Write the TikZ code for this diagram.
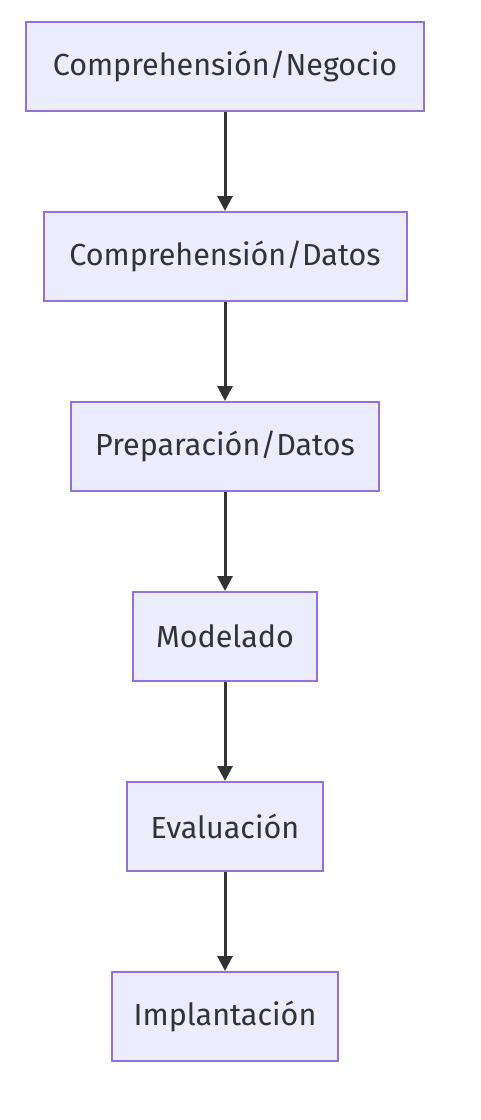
\documentclass[tikz,border=0pt]{standalone}
\usepackage{fontspec}
\setmainfont{Fira Sans}
\usetikzlibrary{arrows.meta, positioning}
\definecolor{boxfill}{HTML}{ECECFF}
\definecolor{boxline}{HTML}{9370DB}
\definecolor{arrline}{HTML}{333333}
\tikzset{
  stage/.style={
    rectangle, minimum height=89pt, inner xsep=0pt,
    draw=boxline, fill=boxfill, line width=2pt,
    text=arrline, font=\fontsize{30.5}{36}\selectfont
  },
  arr/.style={-{Triangle[length=15pt, width=15pt]}, line width=3pt, draw=arrline}
}
\begin{document}
\begin{tikzpicture}[x=1pt, y=1pt, node distance=99pt]
  \useasboundingbox (0,0) rectangle (480,-1120);
  \node[stage, minimum width=398pt] at (225,-66.5) (neg) {Comprehensión/Negocio};
  \node[stage, minimum width=363pt, below=of neg] (dat) {Comprehensión/Datos};
  \node[stage, minimum width=308pt, below=of dat] (prep) {Preparación/Datos};
  \node[stage, minimum width=184pt, below=of prep] (mod) {Modelado};
  \node[stage, minimum width=196pt, below=of mod] (eval) {Evaluación};
  \node[stage, minimum width=226pt, below=of eval] (impl) {Implantación};

  \draw[arr] (neg)  -- (dat);
  \draw[arr] (dat)  -- (prep);
  \draw[arr] (prep) -- (mod);
  \draw[arr] (mod)  -- (eval);
  \draw[arr] (eval) -- (impl);
\end{tikzpicture}
\end{document}
